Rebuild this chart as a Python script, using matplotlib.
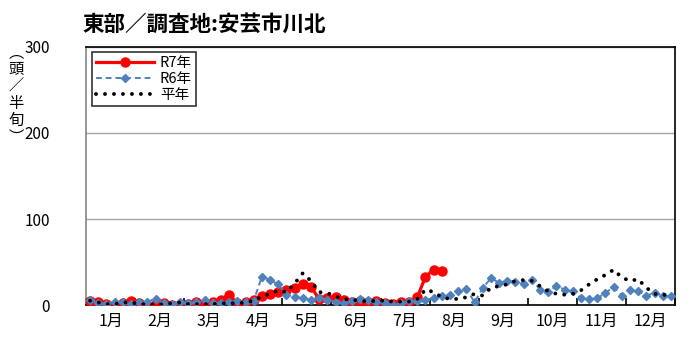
import numpy as np
import matplotlib.pyplot as plt

plt.rcParams['font.family'] = ['Noto Sans CJK JP', 'DejaVu Sans']

# 半旬 values (72 per year)
r7 = [5, 3, 1, 0, 2, 5, 2, 0, 1, 2, 0, 0,
      1, 3, 1, 4, 6, 12, 2, 4, 6, 10, 13, 15,
      17, 20, 24, 21, 7, 8, 9, 6, 3, 5, 3, 5,
      2, 1, 4, 3, 9, 33, 41, 39]
r6 = [6, 2, 1, 4, 3, 1, 3, 4, 7, 2, 1, 3,
      2, 4, 6, 2, 2, 3, 5, 3, 5, 33, 29, 24,
      12, 9, 8, 6, 8, 6, 4, 2, 5, 7, 6, 4,
      2, 0, 2, 5, 5, 6, 8, 10, 12, 16, 19, 3,
      20, 31, 26, 28, 27, 25, 29, 18, 15, 22, 18, 16,
      8, 7, 8, 14, 21, 11, 17, 16, 11, 14, 11, 10]
normal = [5, 3, 1, 1, 3, 3, 1, 1, 0, 1, 2, 3,
          1, 1, 1, 1, 2, 2, 2, 3, 5, 10, 13, 17,
          15, 25, 37, 28, 15, 14, 10, 7, 6, 5, 4, 5,
          5, 4, 4, 4, 7, 18, 15, 9, 7, 7, 9, 13,
          11, 20, 22, 24, 28, 29, 28, 22, 16, 13, 12, 13,
          17, 24, 30, 35, 41, 32, 28, 30, 20, 13, 12, 11]
months = [f"{m}月" for m in range(1, 13)]

fig = plt.figure(figsize=(7.0, 3.54), dpi=100)
ax = fig.add_axes([86 / 700, 1 - 305 / 354, 589 / 700, 258 / 354])

x7 = np.arange(len(r7)) + 0.5
x6 = np.arange(len(r6)) + 0.5
xn = np.arange(len(normal)) + 0.5

ax.plot(x7, r7, color='#FF0000', lw=2.3, marker='o', ms=6.5,
        label='R7年', zorder=3)
ax.plot(x6, r6, color='#4F81BD', lw=1.4, ls=(0, (3, 2)), marker='D', ms=4,
        label='R6年', zorder=4)
ax.plot(xn, normal, color='black', lw=2.8, ls=(0, (0.01, 2.3)),
        dash_capstyle='round', label='平年', zorder=5)

ax.set_xlim(0, 72)
ax.set_ylim(0, 300)
ax.set_yticks([0, 100, 200, 300])
ax.yaxis.grid(True, color='#A6A6A6', lw=1)
ax.set_axisbelow(True)
ax.tick_params(axis='y', length=0, pad=26, labelsize=11)

ax.set_xticks(np.arange(0, 73, 6))
ax.set_xticklabels([])
ax.set_xticks(np.arange(3, 72, 6), minor=True)
ax.set_xticklabels(months, minor=True)
ax.tick_params(axis='x', which='major', direction='in', length=5, width=1.2)
ax.tick_params(axis='x', which='minor', length=0, pad=6, labelsize=11.5)

for s in ['top', 'right', 'bottom']:
    ax.spines[s].set_color('black')
    ax.spines[s].set_linewidth(1.2)
ax.spines['left'].set_color('#868686')
ax.spines['left'].set_linewidth(1.2)

fig.text(82 / 700, 1 - 24 / 354, '東部／調査地:安芸市川北', fontsize=15.5,
         fontweight='bold', ha='left', va='center')
fig.text(16 / 700, 1 - 95 / 354, '︵\n頭\n／\n半\n旬\n︶', fontsize=11,
         ha='center', va='center', linespacing=1.0)

leg = ax.legend(loc='upper left', bbox_to_anchor=(6 / 589, 1 - 5 / 258),
                frameon=True, fancybox=False, edgecolor='black',
                fontsize=10.5, handlelength=4, borderpad=0.25,
                labelspacing=0.15, handletextpad=0.4, borderaxespad=0)
leg.get_frame().set_linewidth(1.2)

fig.savefig('out.png', dpi=100)
